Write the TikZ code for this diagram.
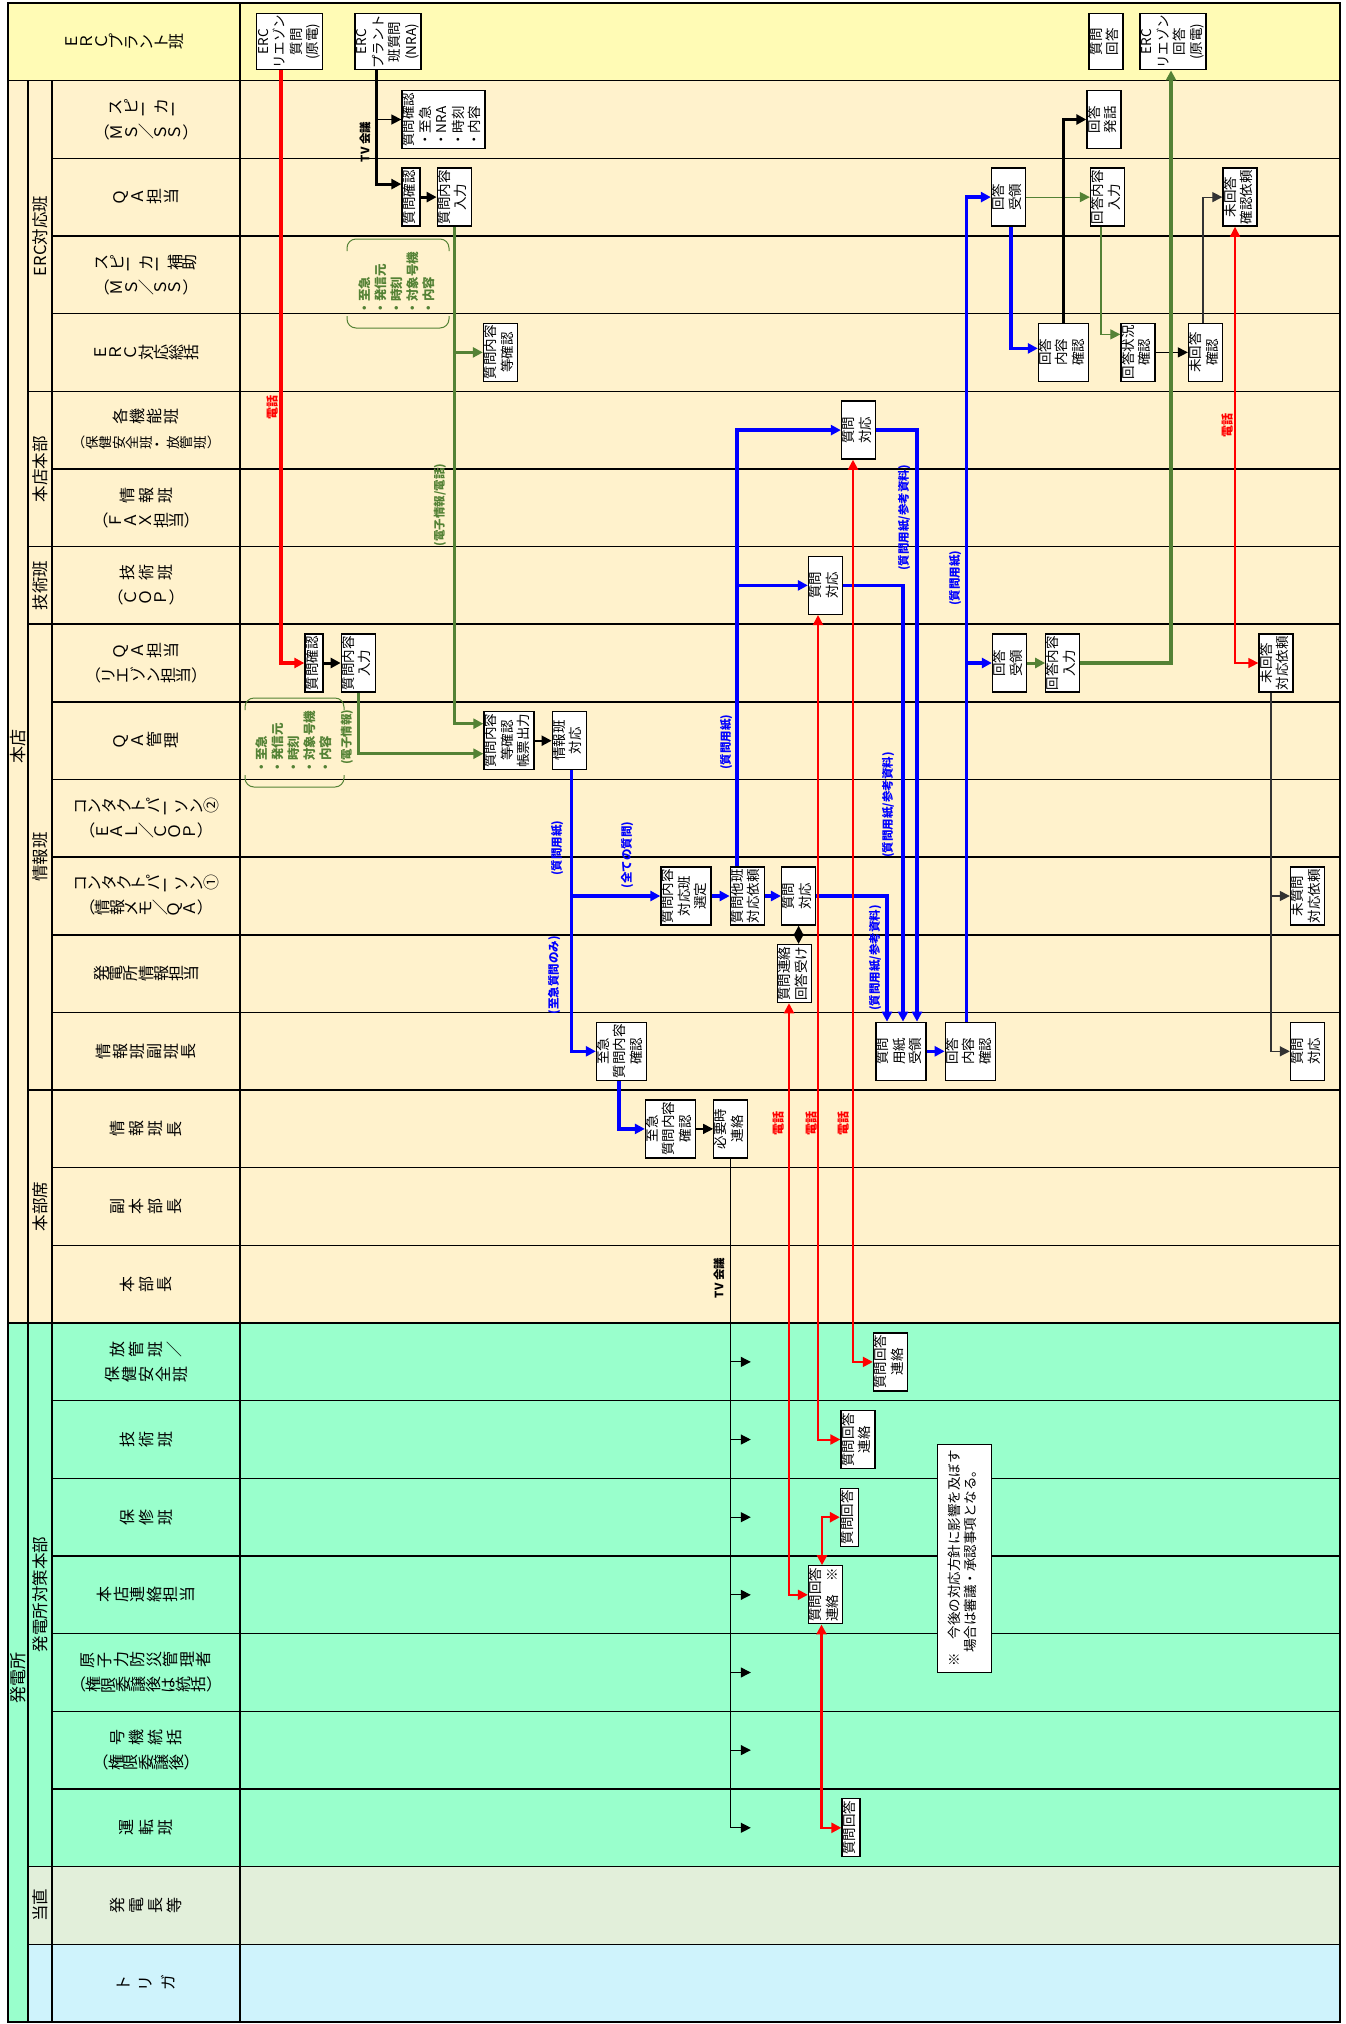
\documentclass[tikz,border=0pt]{standalone}
\usepackage{fontspec}
\setmainfont{Noto Sans CJK JP}
\usepackage{graphicx}
\usetikzlibrary{arrows.meta, positioning}

\definecolor{ercyel}{HTML}{FFFBB5}
\definecolor{honten}{HTML}{FFF2CC}
\definecolor{hatsu}{HTML}{99FFCC}
\definecolor{tochoku}{HTML}{E2EFDA}
\definecolor{trig}{HTML}{CFF3FC}
\definecolor{grn}{HTML}{548235}
\definecolor{dkgray}{HTML}{333333}

\newcommand\boxfont{\fontsize{13.5}{16.5}\selectfont}
\newcommand\lanefont{\fontsize{16}{25}\selectfont}
\newcommand\tagfont{\fontsize{11.5}{16}\selectfont\bfseries}
% text set sideways, read from the bottom
\newcommand\vt[1]{\rotatebox{90}{\begin{tabular}{@{}c@{}}#1\end{tabular}}}
\newcommand\vtl[1]{\rotatebox{90}{\begin{tabular}{@{}l@{}}#1\end{tabular}}}
% every glyph turned on its own (lane titles)
\ExplSyntaxOn
\NewDocumentCommand\tate{O{16pt}m}
  { \tl_map_inline:nn {#2} { \makebox[#1]{\rotatebox[origin=c]{90}{##1}} } }
\ExplSyntaxOff

\begin{document}
\begin{tikzpicture}[x=1pt, y=-1pt,
  box/.style={draw, line width=1.3pt, fill=white, inner sep=0pt,
    minimum height=58pt, font=\boxfont},
  w1/.style={box, minimum width=18pt},
  w2/.style={box, minimum width=34pt},
  w3/.style={box, minimum width=50pt},
  w4/.style={box, minimum width=66pt, minimum height=56pt},
  lanelbl/.style={font=\lanefont, align=center, inner sep=0pt},
  grplbl/.style={font=\fontsize{16.5}{18}\selectfont, rotate=90, inner sep=0pt},
  tag/.style={font=\tagfont, rotate=90, inner sep=0pt},
  redtag/.style={tag, text=red, font=\fontsize{12}{14}\selectfont\bfseries},
  >={Triangle[length=10pt, width=10pt]},
  redl/.style={draw=red, ->},
  blk/.style={draw=black, ->},
  bluel/.style={draw=blue, line width=3.5pt, ->},
  grnl/.style={draw=grn, ->}
]
\useasboundingbox (0,0) rectangle (1345,2024);

% lanes
\fill[ercyel] (8,3) rectangle (1340,80.65);
\fill[honten] (8,80.65) rectangle (1340,1322.95);
\fill[hatsu] (8,1322.95) rectangle (1340,1866.5);
\fill[hatsu] (8,1866.5) rectangle (28,2022);
\fill[tochoku] (28,1866.5) rectangle (1340,1944.15);
\fill[trig] (28,1944.15) rectangle (1340,2022);
\foreach \r in {2,...,12,14,17,18,20,21,23,24,25}
  \draw[line width=1.5pt] (52,{3+77.65*\r}) -- (1340,{3+77.65*\r});
\foreach \r in {13,15,16,19,22}
  \draw[line width=0.9pt] (52,{3+77.65*\r}) -- (1340,{3+77.65*\r});
\foreach \r in {5,7,8,14,24,25}
  \draw[line width=1.5pt] (28,{3+77.65*\r}) -- (52,{3+77.65*\r});
\foreach \r in {1,17}
  \draw[line width=1.5pt] (8,{3+77.65*\r}) -- (1340,{3+77.65*\r});
\draw[line width=1.5pt] (28,80.65) -- (28,2022) (52,80.65) -- (52,2022) (240,3) -- (240,2022);
\draw[line width=2pt] (8,3) rectangle (1340,2022);
\foreach \r in {0,...,25}
  \coordinate (lane\r) at (0,{3+77.65*(\r+0.5)});

% lane titles
\node[lanelbl] (lbl0) at (124,41.8) {\tate[15pt]{ＥＲＣプラント班}};
\foreach \r/\lbl in {
  1/{\tate[15pt]{スピーカー}\\（\tate[14.5pt]{ＭＳ／ＳＳ}）},
  2/{\tate[17pt]{ＱＡ担当}},
  3/{\tate[14.5pt]{スピーカー補助}\\（\tate[14.5pt]{ＭＳ／ＳＳ}）},
  4/{\tate[15pt]{ＥＲＣ対応総括}},
  5/{\tate[17pt]{各機能班}\\{\fontsize{13.5}{25}\selectfont（\tate[13.5pt]{保健安全班・放管班}）}},
  6/{\tate[19pt]{情報班}\\（\tate[15pt]{ＦＡＸ担当}）},
  7/{\tate[19pt]{技術班}\\（\tate[15pt]{ＣＯＰ}）},
  8/{\tate[17pt]{ＱＡ担当}\\（\tate[15pt]{リエゾン担当}）},
  9/{\tate[17pt]{ＱＡ管理}},
  10/{\tate[14.5pt]{コンタクトパーソン②}\\（\tate[14.5pt]{ＥＡＬ／ＣＯＰ}）},
  11/{\tate[14.5pt]{コンタクトパーソン①}\\（\tate[14.5pt]{情報メモ／ＱＡ}）},
  12/{\tate[15pt]{発電所情報担当}},
  13/{\tate[17pt]{情報班副班長}},
  14/{\tate[19pt]{情報班長}},
  15/{\tate[19pt]{副本部長}},
  16/{\tate[19pt]{本部長}},
  17/{\tate[19pt]{放管班／}\\\tate[17pt]{保健安全班}},
  18/{\tate[19pt]{技術班}},
  19/{\tate[19pt]{保修班}},
  20/{\tate[16.5pt]{本店連絡担当}},
  21/{\tate[16.5pt]{原子力防災管理者}\\（\tate[15pt]{権限委譲後は統括}）},
  22/{\tate[19pt]{号機統括}\\（\tate[15pt]{権限委譲後}）},
  23/{\tate[19pt]{運転班}},
  24/{\tate[19pt]{発電長等}},
  25/{\tate[22pt]{トリガ}}}
  \node[lanelbl] (lbl\r) at (146,{3+77.65*(\r+0.5)}) {\lbl};

% group titles
\node[grplbl, font=\fontsize{17}{19}\selectfont] (gHonten) at (18,746) {本店};
\node[grplbl, font=\fontsize{17}{19}\selectfont] (gHatsu) at (18,1678) {発電所};
\node[grplbl] (gErc) at (40,236) {ERC対応班};
\node[grplbl] (gHq) at (40,469) {本店本部};
\node[grplbl] (gTech) at (40,585.4) {技術班};
\node[grplbl] (gInfo) at (40,857) {情報班};
\node[grplbl] (gSeat) at (40,1206.5) {本部席};
\node[grplbl] (gPlant) at (40,1594.7) {発電所対策本部};
\node[grplbl] (gShift) at (40,1905.4) {当直};

% ERC plant team
\node[w4] (erclq) at (289.5,41.8) {\vt{ERC\\リエゾン\\質問\\(原電)}};
\node[w4] (ercpq) at (388,41.8) {\vt{ERC\\プラント\\班質問\\(NRA)}};
\node[w2, minimum height=56pt] (qans) at (1106,41.8) {\vt{質問\\回答}};
\node[w4] (erclans) at (1173,41.8) {\vt{ERC\\リエゾン\\回答\\(原電)}};

% ERC response team
\node[box, minimum width=83pt] (spkchk) at (443.5,119.5) {\vtl{質問確認\\・至急\\・NRA\\・時刻\\・内容}};
\node[w2] (spkans) at (1104,119.5) {\vt{回答\\発話}};
\node[w1] (qachk) at (411,197.1) {\vt{質問確認}};
\node[w2, right=16pt of qachk] (qain) {\vt{質問内容\\入力}};
\node[w2] (qarecv) at (1008.5,197.1) {\vt{回答\\受領}};
\node[w2] (qaansin) at (1107.5,197.1) {\vt{回答内容\\入力}};
\node[w2] (qanoreq) at (1240,197.1) {\vt{未回答\\確認依頼}};
\node[w2] (sumchk) at (500.5,352.4) {\vt{質問内容\\等確認}};
\node[w3] (sumans) at (1063.5,352.4) {\vt{回答\\内容\\確認}};
\node[w2] (sumstat) at (1138,352.4) {\vt{回答状況\\確認}};
\node[w2] (sumnoans) at (1205.5,352.4) {\vt{未回答\\確認}};

% head office / technical team
\node[w2] (kinou) at (858.5,430.1) {\vt{質問\\対応}};
\node[w2] (gijutsu) at (825.5,585.4) {\vt{質問\\対応}};

% information team
\node[w1] (liachk) at (314,663) {\vt{質問確認}};
\node[w2, right=17pt of liachk] (liain) {\vt{質問内容\\入力}};
\node[w2] (liarecv) at (1009.5,663) {\vt{回答\\受領}};
\node[w2, right=18pt of liarecv] (liaansin) {\vt{回答内容\\入力}};
\node[w2] (lianoreq) at (1276,663) {\vt{未回答\\対応依頼}};
\node[w3] (qamchk) at (509,740.7) {\vt{質問内容\\等確認\\帳票出力}};
\node[w2, right=17pt of qamchk] (qamresp) {\vt{情報班\\対応}};
\node[w3] (cp1sel) at (686,896) {\vt{質問内容\\対応班\\選定}};
\node[w2, right=18pt of cp1sel] (cp1req) {\vt{質問他班\\対応依頼}};
\node[w2, right=16pt of cp1req] (cp1resp) {\vt{質問\\対応}};
\node[w2] (cp1noq) at (1307.5,896) {\vt{未質問\\対応依頼}};
\node[w2] (plinfo) at (794.5,973.6) {\vt{質問連絡\\回答受け}};
\node[w3] (vicechk) at (621.5,1051.3) {\vt{至急\\質問内容\\確認}};
\node[w3] (vicerecv) at (901,1051.3) {\vt{質問\\用紙\\受領}};
\node[w3, right=18pt of vicerecv] (viceans) {\vt{回答\\内容\\確認}};
\node[w2] (viceresp) at (1307.5,1051.3) {\vt{質問\\対応}};

% HQ seats
\node[w3] (chiefchk) at (670.5,1128.9) {\vt{至急\\質問内容\\確認}};
\node[w2, right=17pt of chiefchk] (chiefcall) {\vt{必要時\\連絡}};

% power station
\node[w2] (hokan) at (890.5,1361.9) {\vt{質問回答\\連絡}};
\node[w2] (tech) at (858,1439.5) {\vt{質問回答\\連絡}};
\node[w1] (hoshu) at (849.5,1517.2) {\vt{質問回答}};
\node[w2] (renraku) at (825.5,1594.8) {\vt{質問回答\\連絡　※}};
\node[w1] (unten) at (851,1827.8) {\vt{質問回答}};
\node[box, line width=1pt, minimum width=54pt, minimum height=228pt] (note) at (964,1558)
  {\vtl{※　今後の対応方針に影響を及ぼす\\\hspace*{1em}場合は審議・承認事項となる。}};

% green brackets
\draw[grn, line width=1pt, rounded corners=9pt] (347,251) -- (347,239) -- (449,239) -- (449,251)
  (347,316) -- (347,328) -- (449,328) -- (449,316);
\draw[grn, line width=1pt, rounded corners=9pt] (245,710) -- (245,698) -- (344,698) -- (344,710)
  (245,775) -- (245,787) -- (344,787) -- (344,775);
\node[tag, text=grn, align=left, font=\fontsize{12.5}{16}\selectfont\bfseries] (items1) at (397,283)
  {・至急\\・発信元\\・時刻\\・対象号機\\・内容};
\node[tag, text=grn, align=left, font=\fontsize{12.5}{16}\selectfont\bfseries] (items2) at (294,742)
  {・至急\\・発信元\\・時刻\\・対象号機\\・内容};

% connectors
\draw[redl, line width=4pt] ([xshift=-8.5pt]erclq.south) |- (liachk.west);
\coordinate (tvtop) at ([xshift=-12pt]ercpq.south);
\draw[blk, line width=3pt] (tvtop) |- ([yshift=13pt]qachk.west);
\draw[blk, line width=1.5pt] (tvtop |- spkchk.west) -- (spkchk.west);
\draw[blk, line width=3pt] (qachk) -- (qain);
\draw[grnl, line width=3pt] (qain.south) |- ([yshift=17pt]qamchk.west);
\draw[grnl, line width=3pt] (qain.south |- sumchk.west) -- (sumchk.west);
\draw[blk, line width=3pt] (liachk) -- (liain);
\draw[grnl, line width=3pt] (liain.south) |- ([yshift=-13pt]qamchk.west);
\draw[blk, line width=2pt] (qamchk) -- (qamresp);
\coordinate (bl1) at ([xshift=2pt]qamresp.south);
\draw[bluel] (bl1) |- (vicechk.west);
\draw[bluel] (bl1 |- cp1sel.west) -- (cp1sel.west);
\draw[bluel] (cp1sel) -- (cp1req);
\draw[bluel] (cp1req) -- (cp1resp);
\coordinate (bl2) at ([xshift=-10.5pt]cp1req.north);
\draw[bluel] (bl2) |- (kinou.west);
\draw[bluel] (bl2 |- gijutsu.west) -- (gijutsu.west);
\draw[bluel] (kinou.east) -| ([xshift=16pt]vicerecv.north);
\draw[bluel] (gijutsu.east) -| ([xshift=2pt]vicerecv.north);
\draw[bluel] (cp1resp.east) -| ([xshift=-14pt]vicerecv.north);
\draw[bluel] (vicerecv) -- (viceans);
\coordinate (bl3) at ([xshift=-4pt]viceans.north);
\draw[bluel] (bl3) |- (qarecv.west);
\draw[bluel] (bl3 |- liarecv.west) -- (liarecv.west);
\draw[bluel] ([xshift=2.5pt]qarecv.south) |- ([yshift=4pt]sumans.west);
\draw[grnl, line width=1.2pt] (qarecv) -- (qaansin);
\draw[blk, line width=3.5pt] (sumans.north) |- (spkans.west);
\draw[grnl, line width=1.2pt] ([xshift=-6.5pt]qaansin.south) |- ([yshift=18pt]sumstat.west);
\draw[blk, line width=1.2pt] (sumstat) -- (sumnoans);
\draw[blk, draw=dkgray, line width=1.2pt] ([xshift=-2.5pt]sumnoans.north) |- (qanoreq.west);
\draw[redl, <->, line width=1.5pt] ([xshift=-5pt]qanoreq.south) |- (lianoreq.west);
\draw[grnl, line width=3pt] (liarecv) -- (liaansin);
\draw[grnl, line width=3.5pt] (liaansin.east) -| ([xshift=-2pt]erclans.south);
\coordinate (dk1) at ([xshift=-5pt]lianoreq.south);
\draw[blk, draw=dkgray, line width=1.2pt] (dk1) |- (viceresp.west);
\draw[blk, draw=dkgray, line width=1.2pt] (dk1 |- cp1noq.west) -- (cp1noq.west);
\draw[redl, <->, line width=2pt] ([xshift=-5.5pt]kinou.south) |- (hokan.west);
\draw[redl, <->, line width=2pt] ([xshift=-7.5pt]gijutsu.south) |- (tech.west);
\draw[redl, <->, line width=2pt] ([xshift=-5.5pt]plinfo.south) |- (renraku.west);
\draw[blk, <->, line width=2pt] (cp1resp.south) -- (cp1resp.south |- plinfo.north);
\draw[bluel] ([xshift=-2.5pt]vicechk.south) |- (chiefchk.west);
\draw[blk, line width=1.2pt] (chiefchk) -- (chiefcall);
\draw[line width=1.2pt] (chiefcall.south) -- (chiefcall.south |- lane23);
\foreach \r in {17,...,23}
  \draw[blk, line width=1.2pt] (chiefcall.south |- lane\r) -- ++(20,0);
\draw[redl, <->, line width=2.5pt] ([xshift=-3.5pt]renraku.north) |- (hoshu.west);
\draw[redl, <->, line width=2.5pt] ([xshift=-4pt]renraku.south) |- (unten.west);

% line labels
\node[redtag] (telA) at (272,407) {電話};
\node[redtag] (telB) at (1227,425) {電話};
\node[redtag] (telC) at (778,1123) {電話};
\node[redtag] (telD) at (811,1123) {電話};
\node[redtag] (telE) at (843,1123) {電話};
\node[tag, text=grn] (etel) at (440,505) {(電子情報/電話)};
\node[tag, text=grn] (eonly) at (347,737) {(電子情報)};
\node[tag, text=blue] (paper1) at (726,742) {(質問用紙)};
\node[tag, text=blue] (paper2) at (557,848) {(質問用紙)};
\node[tag, text=blue] (allq) at (627,855) {(全ての質問)};
\node[tag, text=blue] (urgq) at (554,975) {(至急質問のみ)};
\node[tag, text=blue] (ref1) at (904,518) {(質問用紙/参考資料)};
\node[tag, text=blue] (paper3) at (955,578) {(質問用紙)};
\node[tag, text=blue] (ref2) at (888,805) {(質問用紙/参考資料)};
\node[tag, text=blue] (ref3) at (875,958) {(質問用紙/参考資料)};
\node[tag] (tv1) at (365,142) {TV 会議};
\node[tag] (tv2) at (719,1278) {TV 会議};
\end{tikzpicture}
\end{document}
